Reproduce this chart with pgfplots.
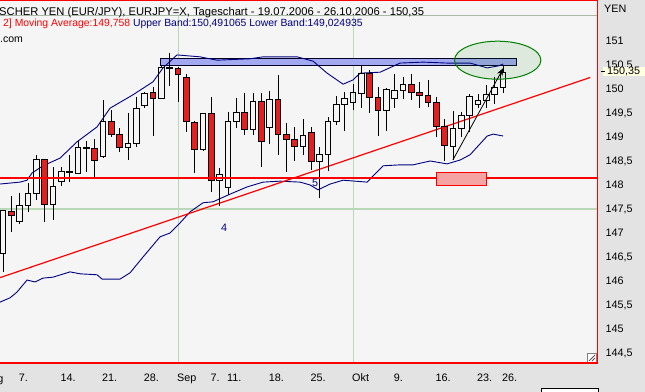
\documentclass[border=0pt]{standalone}
\usepackage{fontspec}
\setmainfont{Liberation Sans}
\usepackage{pgfplots}
\usepackage{pgfplotstable}
\pgfplotsset{compat=1.18}
\usepgfplotslibrary{fillbetween}
\usetikzlibrary{arrows.meta}

\definecolor{panel}{HTML}{E3E3E3}
\definecolor{plotbg}{HTML}{F5F5F5}
\definecolor{bandfill}{HTML}{EAEAEA}
\definecolor{navyband}{HTML}{000080}
\definecolor{candlered}{HTML}{E61E1E}
\definecolor{gridgreen}{HTML}{A4C0A4}
\definecolor{solidgreen}{HTML}{B8D8B8}
\definecolor{sepgray}{HTML}{A8B8A8}
\definecolor{rectblue}{HTML}{A3A9F1}
\definecolor{pinkbox}{HTML}{F5A3A3}
\definecolor{ellgreen}{HTML}{008000}
\definecolor{pricebox}{HTML}{FFFFE1}
\definecolor{linered}{HTML}{FF0000}

% i = trading day index (0 = 7 Aug 2006)
\pgfplotstableread{
i O H L C
-2 146.58 147.48 146.19 147.46
-1 147.45 147.77 147.03 147.36
0 147.24 147.84 147.18 147.58
1 147.58 148.04 147.44 147.83
2 147.83 148.63 147.69 148.54
3 148.54 148.55 147.22 147.60
4 147.60 148.37 147.27 147.97
5 148.07 148.38 147.97 148.28
6 148.27 148.63 148.06 148.29
7 148.24 148.92 148.24 148.79
8 148.77 148.92 148.28 148.79
9 148.76 148.95 148.15 148.52
10 148.59 149.77 148.56 149.33
11 149.33 149.56 148.99 149.06
12 149.06 149.18 148.69 148.79
13 148.79 149.51 148.52 148.87
14 148.87 149.84 148.79 149.60
15 149.65 149.94 149.61 149.91
16 149.93 150.05 149.02 149.81
17 149.81 150.47 149.80 150.45
18 150.43 150.76 150.07 150.45
19 150.42 150.45 149.72 150.31
20 150.24 150.31 149.10 149.33
21 149.31 149.34 148.26 148.75
22 148.75 149.50 148.70 149.49
23 149.49 149.83 147.85 148.10
24 148.10 148.35 147.57 148.22
25 147.95 149.53 147.79 149.33
26 149.33 149.81 149.18 149.51
27 149.51 149.91 149.04 149.16
28 149.16 149.91 149.05 149.75
29 149.75 149.91 148.38 148.90
30 149.20 149.96 148.85 149.78
31 149.78 150.29 148.63 149.06
32 149.06 149.29 148.28 148.94
33 148.94 149.20 148.51 148.81
34 148.81 149.37 148.63 149.03
35 149.10 149.20 148.31 148.50
36 148.50 148.79 147.72 148.64
37 148.64 149.41 148.29 149.33
38 149.33 149.85 149.25 149.68
39 149.68 149.93 149.13 149.81
40 149.72 150.10 149.56 149.92
41 149.91 150.48 149.61 150.33
42 150.33 150.40 149.49 149.83
43 149.83 150.05 149.02 149.55
44 149.55 150.02 149.12 149.99
45 149.81 150.31 149.61 149.97
46 149.97 150.24 149.79 150.10
47 150.10 150.31 149.77 149.93
48 149.93 150.14 149.61 149.87
49 149.87 150.19 149.62 149.72
50 149.72 149.84 148.99 149.22
51 149.22 149.37 148.51 148.82
52 148.80 149.54 148.52 149.17
53 149.17 149.53 149.00 149.44
54 149.44 149.89 149.11 149.84
55 149.68 149.90 149.61 149.76
56 149.76 150.08 149.60 149.89
57 149.89 150.26 149.69 150.04
58 150.04 150.47 149.92 150.35
}\candles

\pgfplotstableread{
i p
-2.365 148.02
0.04 148.06
0.88 148.10
1.48 148.25
2.80 148.40
4.84 148.56
6.88 148.90
9.28 149.21
10.84 149.60
13.60 149.88
16.00 150.15
17.20 150.44
18.88 150.71
21.64 150.67
23.68 150.60
27.65 150.63
29.21 150.67
33.29 150.67
35.21 150.58
36.89 150.33
38.81 150.10
40.01 150.19
40.85 150.33
43.25 150.35
45.65 150.54
48.41 150.56
51.29 150.54
54.05 150.54
56.10 150.44
57.42 150.48
58.02 150.52
}\upperband

\pgfplotstableread{
i p
-2.365 145.56
-1.16 145.65
-0.32 145.77
0.88 146.02
1.84 145.98
2.80 146.06
4.00 146.08
6.04 146.19
7.24 146.15
9.28 146.13
9.88 146.04
12.04 146.04
13.24 146.17
14.80 146.50
16.84 146.92
18.04 147.00
19.24 147.21
20.44 147.44
22.00 147.63
23.20 147.65
25.25 147.81
27.29 147.96
29.21 148.06
31.25 148.08
33.65 148.06
34.85 148.00
35.81 147.90
37.26 148.02
38.81 148.10
41.69 148.06
43.61 148.40
45.65 148.42
47.21 148.42
49.25 148.50
51.29 148.44
52.85 148.52
54.05 148.63
56.10 149.02
56.82 149.06
58.02 149.02
}\lowerband

\pgfplotstableread{
i p
-2.365 148.15
69.28 148.15
}\supportline

\pgfplotstableread{
i p
-2.365 146.07
68.46 150.24
}\trendline

\begin{document}
\begin{tikzpicture}
\fill[panel] (-20pt,-40pt) rectangle (660pt,370pt);
\fill[plotbg] (0pt,0pt) rectangle (597.5pt,363pt);
\begin{axis}[
  at={(0pt,0pt)}, anchor=south west,
  scale only axis, width=597pt, height=347.3pt,
  xmin=-2.365, xmax=69.28, ymin=144.2917, ymax=151.527,
  clip=false,
  axis line style={draw=none},
  xtick={0,5,10,15,19,23,25,30,35,40,45,50,55,58},
  xticklabels={7.,14.,21.,28.,Sep,7.,11.,18.,25.,Okt,9.,16.,23.,26.},
  minor xtick={-2,-1,...,69},
  ytick={144.5,145,145.5,146,146.5,147,147.5,148,148.5,149,149.5,150,150.5,151},
  minor y tick num=4,
  xtick pos=left, ytick pos=right, yticklabel pos=right,
  tick align=outside, major tick length=4pt, minor tick length=2pt,
  tick style={black, line width=0.8pt},
  xmajorgrids, ymajorgrids,
  major grid style={gridgreen, line width=0.8pt, dash pattern=on 0.8pt off 4pt},
  ticklabel style={font=\fontsize{10.8}{12}\selectfont},
  /pgf/number format/use comma,
  /pgf/number format/1000 sep={},
  /pgf/number format/assume math mode=true,
  yticklabel style={anchor=west, inner sep=0pt, xshift=4.5pt},
  xticklabel style={anchor=north west, inner sep=0pt, xshift=-1pt, yshift=-6.5pt},
]
% Bollinger band area
\addplot[name path=up, draw=none, forget plot] table[x=i, y=p] {\upperband};
\addplot[name path=lo, draw=none, forget plot] table[x=i, y=p] {\lowerband};
\addplot[fill=bandfill, draw=none, forget plot] fill between[of=up and lo];

% solid grid lines
\addplot[solidgreen, line width=1pt, forget plot] coordinates {(19,144.2917) (19,151.527)};
\addplot[solidgreen, line width=1pt, forget plot] coordinates {(40,144.2917) (40,151.527)};
\addplot[solidgreen, line width=1.2pt, forget plot] coordinates {(-2.365,147.5) (69.28,147.5)};

% blue resistance box
\addplot[draw=black!85!blue, fill=rectblue, line width=0.9pt, forget plot] coordinates {(16.95,150.49) (59.58,150.49) (59.58,150.64) (16.95,150.64) (16.95,150.49)} --cycle;

% band lines
\addplot[navyband, line width=0.9pt, forget plot] table[x=i, y=p] {\upperband};
\addplot[navyband, line width=0.9pt, forget plot] table[x=i, y=p] {\lowerband};

% red trend line
\addplot[draw=linered, line width=1.2pt, forget plot] table[x=i, y=p] {\trendline};

% candles
\pgfplotstablegetrowsof{\candles}
\pgfmathtruncatemacro{\CndLast}{\pgfplotsretval-1}
\pgfplotsforeachungrouped \CndRow in {0,...,\CndLast}{
  \pgfplotstablegetelem{\CndRow}{i}\of\candles \let\CndI\pgfplotsretval
  \pgfplotstablegetelem{\CndRow}{O}\of\candles \let\CndO\pgfplotsretval
  \pgfplotstablegetelem{\CndRow}{H}\of\candles \let\CndH\pgfplotsretval
  \pgfplotstablegetelem{\CndRow}{L}\of\candles \let\CndL\pgfplotsretval
  \pgfplotstablegetelem{\CndRow}{C}\of\candles \let\CndC\pgfplotsretval
  \pgfmathsetmacro\CndTop{max(\CndO,\CndC)}
  \pgfmathsetmacro\CndBot{min(\CndO,\CndC)}
  \pgfmathsetmacro\CndXl{\CndI-0.34}
  \pgfmathsetmacro\CndXr{\CndI+0.34}
  \pgfmathtruncatemacro\CndRed{\CndC<\CndO ? 1 : 0}
  \ifnum\CndRed=1 \def\CndFill{candlered}\else\def\CndFill{none}\fi
  \edef\CndCmd{\noexpand\draw[black, line width=0.9pt] (axis cs:\CndI,\CndH) -- (axis cs:\CndI,\CndTop) (axis cs:\CndI,\CndBot) -- (axis cs:\CndI,\CndL);
    \noexpand\draw[black, line width=0.9pt, fill=\CndFill] (axis cs:\CndXl,\CndBot) rectangle (axis cs:\CndXr,\CndTop);}
  \CndCmd
}

% red support line (drawn over candles)
\addplot[draw=linered, line width=1.5pt, forget plot] table[x=i, y=p] {\supportline};

% annotations
\draw[ellgreen, fill=ellgreen, fill opacity=0.1, line width=1pt] (axis cs:57.36,150.60) ellipse [x radius=43.2pt, y radius=19pt];
\draw[linered, fill=pinkbox, line width=1.2pt] (axis cs:49.98,147.99) rectangle (axis cs:56.06,148.26);
\draw[black, line width=0.8pt, -{Stealth[length=8pt, width=6pt]}] (axis cs:51.98,148.52) -- (axis cs:58.06,150.44);
\node[navyband, font=\fontsize{10.8}{12}\selectfont] at (axis cs:24.53,147.10) {4};
\node[navyband, font=\fontsize{10.8}{12}\selectfont] at (axis cs:35.45,148.04) {5};
\end{axis}

% header strip
\draw[sepgray, line width=1.3pt] (0pt,347.3pt) -- (597pt,347.3pt);
\node[anchor=west, inner sep=0pt, font=\fontsize{11.2}{12}\selectfont] at (-1pt,350pt) {SCHER YEN (EUR/JPY), EURJPY=X, Tageschart - 19.07.2006 - 26.10.2006 - 150,35};
\node[anchor=west, inner sep=0pt, font=\fontsize{10.4}{12}\selectfont] at (3pt,339pt) {\textcolor{linered}{2] Moving Average:149,758} \textcolor{navyband}{Upper Band:150,491065 Lower Band:149,024935}};
\node[anchor=west, inner sep=0pt, font=\fontsize{10.5}{12}\selectfont] at (0pt,323pt) {.com};

% resize grip
\filldraw[fill=white, draw=gray, line width=0.8pt] (587pt,1pt) rectangle (596pt,10pt);
\draw[gray!70!black, line width=0.8pt] (589pt,2pt) -- (595pt,8pt) (592pt,2pt) -- (595pt,5pt);

% frame
\draw[linered, line width=1.4pt] (0pt,362.6pt) -- (597.5pt,362.6pt) -- (597.5pt,0pt) -- (0pt,0pt);

% right panel
\node[anchor=west, inner sep=0pt, font=\fontsize{10.8}{12}\selectfont] at (604pt,354pt) {YEN};
\fill[pricebox] (603pt,286.5pt) rectangle (645pt,296.3pt);
\draw[black, line width=0.8pt] (601pt,291.4pt) -- (605pt,291.4pt);
\node[anchor=west, inner sep=0pt, font=\fontsize{10.8}{12}\selectfont] at (607pt,291.4pt) {150,35};
\node[anchor=west, inner sep=0pt, font=\fontsize{10.8}{12}\selectfont] at (-16pt,-17pt) {Aug};
\filldraw[fill=white, draw=black, line width=0.8pt] (541pt,-25pt) rectangle (598pt,-40pt);

\pgfresetboundingbox
\useasboundingbox (0pt,-28pt) rectangle (645pt,363pt);
\end{tikzpicture}
\end{document}
